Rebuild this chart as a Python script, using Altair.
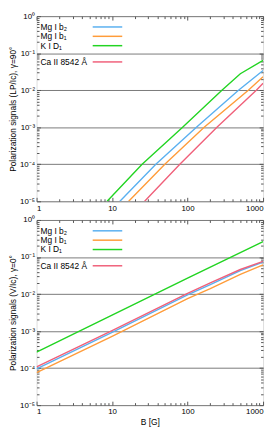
import altair as alt
import pandas as pd

# ---------------- data ----------------
SERIES = ["Mg I b₂", "Mg I b₁", "K I D₁", "Ca II 8542 Å"]
COLORS = ["#5ab0f0", "#ff9c3a", "#22d422", "#f0607a"]

# Linear polarization, gamma = 90 deg
LP_B_MGB2 = [12.7, 38, 131, 473, 1000]
LP_V_MGB2 = [1e-5, 1e-4, 1e-3, 1e-2, 0.034]
LP_B_MGB1 = [16.6, 50, 166, 638, 1000]
LP_V_MGB1 = [1e-5, 1e-4, 1e-3, 1e-2, 0.023]
LP_B_KD1 = [8.6, 25, 86, 285, 500, 1000]
LP_V_KD1 = [1e-5, 1e-4, 1e-3, 1e-2, 0.0278, 0.064]
LP_B_CA = [27, 79, 245, 814, 1000]
LP_V_CA = [1e-5, 1e-4, 1e-3, 1e-2, 0.0154]

# Circular polarization, gamma = 0 deg
V_B = [1, 10, 100, 200, 500, 1000]
V_MGB2 = [0.95e-4, 0.92e-3, 0.95e-2, 1.8e-2, 4.3e-2, 7.3e-2]
V_MGB1 = [0.75e-4, 0.72e-3, 0.75e-2, 1.4e-2, 3.4e-2, 6.1e-2]
V_B_KD1 = [1, 10, 100, 1000]
V_KD1 = [2.7e-4, 2.7e-3, 2.7e-2, 0.26]
V_CA = [1.08e-4, 1.03e-3, 1.04e-2, 2.0e-2, 4.6e-2, 7.6e-2]

X_MAJOR = [1, 10, 100, 1000]
X_MINOR = [k * 10 ** e for e in range(0, 3) for k in range(2, 10)]
Y_MAJOR = [1, 1e-1, 1e-2, 1e-3, 1e-4, 1e-5]
Y_MINOR = [k * 10.0 ** e for e in range(-5, 0) for k in range(2, 10)]
Y_LABELS = "['10⁰','10⁻¹','10⁻²','10⁻³','10⁻⁴','10⁻⁵'][-round(log(datum.value)/LN10)]"


def frame(pairs):
    rows = []
    for name, bs, vs in pairs:
        for b, v in zip(bs, vs):
            rows.append({"series": name, "B": b, "val": v})
    return pd.DataFrame(rows)


lp_df = frame([
    (SERIES[0], LP_B_MGB2, LP_V_MGB2),
    (SERIES[1], LP_B_MGB1, LP_V_MGB1),
    (SERIES[2], LP_B_KD1, LP_V_KD1),
    (SERIES[3], LP_B_CA, LP_V_CA),
])
v_df = frame([
    (SERIES[0], V_B, V_MGB2),
    (SERIES[1], V_B, V_MGB1),
    (SERIES[2], V_B_KD1, V_KD1),
    (SERIES[3], V_B, V_CA),
])

W, H = 230, 188
FONT = "Liberation Sans"
AXC = "#555555"
LEG_Y = [11, 20.5, 30, 46.5]


def panel(df, ytitle, xtitle):
    xs = alt.Scale(type="log", domain=[1, 1000])
    ys = alt.Scale(type="log", domain=[1e-5, 1])

    xaxis = dict(orient="bottom", values=X_MAJOR, format="d", ticks=False, domain=False,
                 grid=False, labelFontSize=8, labelPadding=3, labelFont=FONT,
                 labelColor="#000")
    if xtitle:
        xaxis.update(title=xtitle, titleFontSize=8.5, titleFontWeight="normal",
                     titlePadding=2, titleFont=FONT, titleColor="#000")
    main = alt.Chart(df).mark_line(strokeWidth=1.4, clip=True).encode(
        x=alt.X("B:Q", scale=xs, axis=alt.Axis(**xaxis), title=xtitle if xtitle else None),
        y=alt.Y("val:Q", scale=ys, title=ytitle,
                axis=alt.Axis(orient="left", values=Y_MAJOR, labelExpr=Y_LABELS, ticks=False,
                              domain=False, grid=True, gridColor="#7a7a7a", gridWidth=1,
                              labelFontSize=8, labelPadding=2, labelFont=FONT, labelColor="#000",
                              titleFontSize=8.5, titleFontWeight="normal", titlePadding=2,
                              titleFont=FONT, titleColor="#000")),
        color=alt.Color("series:N", scale=alt.Scale(domain=SERIES, range=COLORS), legend=None),
    )

    def ticks(xo, yo, size, xv, yv):
        return alt.Chart(df).mark_point(opacity=0).encode(
            x=alt.X("B:Q", scale=xs, title=None,
                    axis=alt.Axis(orient=xo, values=xv, labels=False, domain=False, grid=False,
                                  tickSize=size, offset=-size, tickColor=AXC, tickWidth=1)),
            y=alt.Y("val:Q", scale=ys, title=None,
                    axis=alt.Axis(orient=yo, values=yv, labels=False, domain=False, grid=False,
                                  tickSize=size, offset=-size, tickColor=AXC, tickWidth=1)),
        )

    layers = [main,
              ticks("bottom", "left", 4, X_MAJOR, Y_MAJOR),
              ticks("top", "right", 4, X_MAJOR, Y_MAJOR),
              ticks("bottom", "left", 2.5, X_MINOR, Y_MINOR),
              ticks("top", "right", 2.5, X_MINOR, Y_MINOR)]

    for lab, col, yy in zip(SERIES, COLORS, LEG_Y):
        d = pd.DataFrame({"label": [lab]})
        layers.append(alt.Chart(d).mark_text(align="left", baseline="middle", fontSize=8.5,
                                             font=FONT, color="#000").encode(
            x=alt.value(4), y=alt.value(yy), text="label:N"))
        layers.append(alt.Chart(d).mark_rule(color=col, strokeWidth=1.5).encode(
            x=alt.value(57), x2=alt.value(87), y=alt.value(yy)))

    return alt.layer(*layers).resolve_axis(x="independent", y="independent").properties(
        width=W, height=H)


top = panel(lp_df, "Polarization signals (LP/Ic), γ=90°", None)
bottom = panel(v_df, "Polarization signals (V/Ic), γ=0°", "B [G]")

chart = alt.vconcat(top, bottom, spacing=2).properties(padding=0).configure_view(
    stroke=AXC, strokeWidth=1).configure(font=FONT)

chart.save("out.html", embed_options={"renderer": "svg", "actions": False})
